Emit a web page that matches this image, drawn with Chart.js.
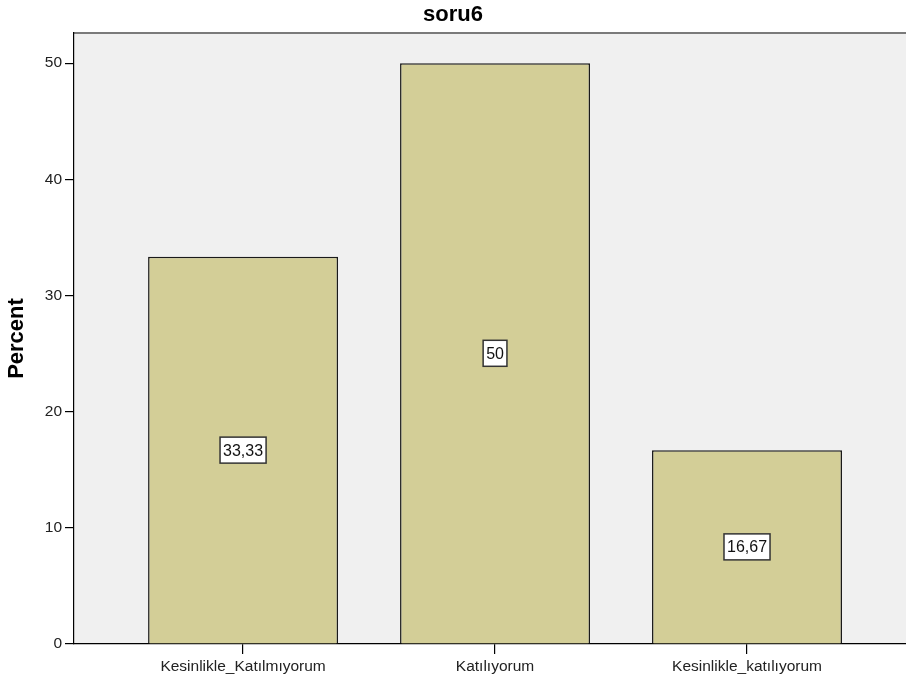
<!DOCTYPE html>
<html>
<head>
<meta charset="utf-8">
<script src="https://cdn.jsdelivr.net/npm/chart.js@4"></script>
<style>
  html, body { margin: 0; padding: 0; background: #fff; }
  #wrap { width: 906px; height: 679px; }
</style>
</head>
<body>
<div id="wrap"><canvas id="chart"></canvas></div>
<script>
// soru6 - percent per answer
const categories = ['Kesinlikle_Katılmıyorum', 'Katılıyorum', 'Kesinlikle_katılıyorum'];
const percents = [33.33, 50, 16.67];
const yTicks = [0, 10, 20, 30, 40, 50];

const fontFamily = '"Liberation Sans", Arial, sans-serif';

// turn 33.33 into "33,33", 50 into "50"
function fmt(v) {
    return v.toFixed(2).replace(/\.?0+$/, '').replace('.', ',');
}

// grey plot background and top frame line
const plotBg = {
    id: 'plotBg',
    beforeDraw(chart) {
        const { ctx, chartArea: a } = chart;
        ctx.save();
        ctx.fillStyle = '#f0f0f0';
        ctx.fillRect(a.left, a.top, a.right - a.left, a.bottom - a.top);
        ctx.strokeStyle = '#7a7a7a';
        ctx.lineWidth = 2;
        ctx.beginPath();
        ctx.moveTo(a.left, a.top);
        ctx.lineTo(a.right, a.top);
        ctx.stroke();
        ctx.restore();
    }
};

// white boxed value labels in the middle of each bar
const boxLabels = {
    id: 'boxLabels',
    afterDatasetsDraw(chart) {
        const { ctx } = chart;
        const meta = chart.getDatasetMeta(0);
        ctx.save();
        ctx.font = '16px ' + fontFamily;
        ctx.textAlign = 'center';
        ctx.textBaseline = 'middle';
        meta.data.forEach((bar, i) => {
            const txt = fmt(percents[i]);
            const cx = bar.x;
            const cy = (bar.y + bar.base) / 2;
            const w = ctx.measureText(txt).width + 6;
            const h = 26;
            ctx.fillStyle = '#ffffff';
            ctx.fillRect(cx - w / 2, cy - h / 2, w, h);
            ctx.strokeStyle = '#333333';
            ctx.lineWidth = 1.5;
            ctx.strokeRect(cx - w / 2, cy - h / 2, w, h);
            ctx.fillStyle = '#111111';
            ctx.fillText(txt, cx, cy + 1);
        });
        ctx.restore();
    }
};

const ctx = document.getElementById('chart').getContext('2d');

const myChart = new Chart(ctx, {
    type: 'bar',
    data: {
        datasets: [{
            label: 'Percent',
            data: percents.map((v, i) => ({ x: i, y: v })),
            backgroundColor: '#d3ce97',
            borderColor: '#1a1a1a',
            borderWidth: 1.5,
            borderSkipped: 'bottom',
            barPercentage: 0.754,
            categoryPercentage: 1
        }]
    },
    options: {
        responsive: true,
        maintainAspectRatio: false,
        animation: false,
        layout: { padding: 0 },
        plugins: {
            legend: { display: false },
            tooltip: { enabled: false },
            title: {
                display: true,
                text: 'soru6',
                color: '#000',
                font: { family: fontFamily, size: 22, weight: 'bold' },
                padding: { top: 2, bottom: 4.6 }
            }
        },
        scales: {
            x: {
                type: 'linear',
                offset: false,
                min: -0.671,
                max: 2.631,
                afterFit(scale) { scale.height = 35; },
                afterBuildTicks(scale) {
                    scale.ticks = categories.map((c, i) => ({ value: i }));
                },
                border: { display: true, color: '#000', width: 1.2 },
                grid: { offset: false, drawOnChartArea: false, drawTicks: true, tickLength: 10, color: '#000', lineWidth: 1.2 },
                ticks: {
                    includeBounds: false,
                    autoSkip: false,
                    maxRotation: 0,
                    padding: 3,
                    color: '#222',
                    font: { family: fontFamily, size: 15.5 },
                    callback: (v) => categories[v]
                }
            },
            y: {
                min: 0,
                max: 52.6,
                afterFit(scale) { scale.width = 74; },
                afterBuildTicks(scale) {
                    scale.ticks = yTicks.map(v => ({ value: v }));
                },
                border: { display: true, color: '#000', width: 1.2 },
                grid: { drawOnChartArea: false, drawTicks: true, tickLength: 9, color: '#000', lineWidth: 1.2 },
                ticks: {
                    includeBounds: false,
                    padding: 3,
                    color: '#222',
                    font: { family: fontFamily, size: 15.5 }
                },
                title: {
                    display: true,
                    text: 'Percent',
                    color: '#000',
                    font: { family: fontFamily, size: 22, weight: 'bold' },
                    padding: { top: 4, bottom: 0 }
                }
            }
        }
    },
    plugins: [plotBg, boxLabels]
});
</script>
</body>
</html>
